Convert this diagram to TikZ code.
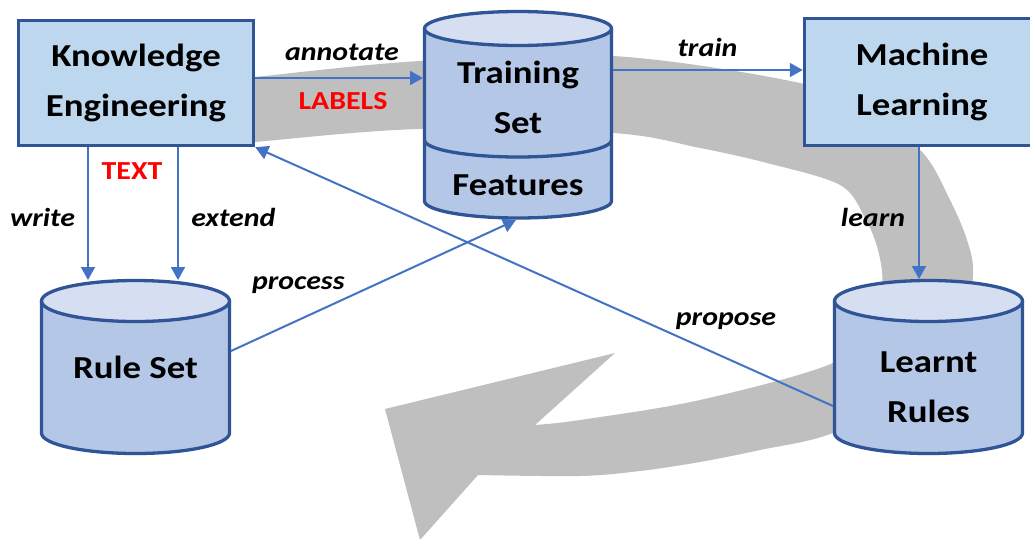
\documentclass[tikz,border=0pt]{standalone}
\usepackage{fontspec}
\setmainfont{Carlito}[FakeStretch=1.15]
\usetikzlibrary{arrows.meta,calc}
\definecolor{boxfill}{HTML}{BDD7EE}
\definecolor{edgeblue}{HTML}{2F5597}
\definecolor{cylbody}{HTML}{B4C7E7}
\definecolor{cyltop}{HTML}{D6DFF2}
\definecolor{bandgray}{HTML}{BFBFBF}
\definecolor{conncol}{HTML}{4472C4}
\definecolor{labred}{HTML}{FF0000}
% cx, y of top ellipse centre, y of bottom ellipse centre, rx, ry
\newcommand\cylshape[5]{%
  \filldraw[fill=cylbody, draw=edgeblue, line width=3.3pt, line join=round]
    (#1-#4,#2) -- (#1-#4,#3) arc[start angle=180, end angle=360, x radius=#4pt, y radius=#5pt]
    -- (#1+#4,#2) -- cycle;
  \filldraw[fill=cyltop, draw=edgeblue, line width=3.3pt] (#1,#2) ellipse[x radius=#4pt, y radius=#5pt];
}
\begin{document}
\begin{tikzpicture}[x=1pt,y=-1pt,
  procbox/.style={draw=edgeblue, fill=boxfill, line width=3.5pt, minimum width=235pt,
    minimum height=125pt, inner sep=0pt, align=center,
    font=\fontsize{32}{49.5}\selectfont\bfseries},
  cylnode/.style={inner sep=0pt, outer sep=0pt},
  cyltxt/.style={font=\fontsize{32}{50}\selectfont\bfseries, anchor=base, inner sep=0pt, align=center},
  lab/.style={font=\fontsize{26}{30}\selectfont\bfseries\itshape, anchor=base, inner sep=0pt},
  redlab/.style={font=\fontsize{26}{30}\selectfont\bfseries, text=labred, anchor=base, inner sep=0pt},
  conn/.style={draw=conncol, line width=2pt, -{Triangle[length=13pt,width=14pt]}}
]
\useasboundingbox (0,0) rectangle (1030,538);
\clip (0,0) rectangle (1030,538);

% big grey circular arrow
\fill[bandgray]
  plot[smooth, tension=0.55] coordinates {(230,80) (255,77) (420,61) (613,56) (800,83) (870,112)
    (923,153) (950,200) (967,240) (973,275) (962,340) (930,385) (833,433) (760,450) (700,462)
    (640,471) (580,476) (478,475)}
  -- (420,540) -- (385,409) -- (615,353) -- (535,425)
  -- plot[smooth, tension=0.55] coordinates {(535,425) (580,420) (700,400) (833,363) (868,325)
    (882,285) (878,250) (865,218) (840,185) (767,163) (700,148) (613,133) (420,129) (255,142) (230,145)}
  -- cycle;

% cylinders (shapes) and their anchor nodes
\cylshape{518}{28.5}{201}{93.5}{17}
\draw[draw=edgeblue, line width=3.3pt] (424.5,140) arc[start angle=180, end angle=360, x radius=93.5pt, y radius=17pt];
\cylshape{135.5}{301}{433}{94}{20.5}
\cylshape{928.5}{301}{433}{94}{20.5}
\node[cylnode, minimum width=190pt, minimum height=210pt] (ts) at (518,115) {};
\node[cylnode, minimum width=191pt, minimum height=175pt] (rs) at (135.5,367.5) {};
\node[cylnode, minimum width=191pt, minimum height=176pt] (lr) at (928.5,367) {};

\node[cyltxt] (tstxt) at (518,133) {Training\\Set};
\node[cyltxt] (fttxt) at (518,195) {Features};
\node[cyltxt] (rstxt) at (135.5,378) {Rule Set};
\node[cyltxt] (lrtxt) at (928.5,422) {Learnt\\Rules};

% boxes
\node[procbox] (ke) at (136,83) {Knowledge\\Engineering};
\node[procbox, minimum height=127pt] (ml) at (922,82) {Machine\\Learning};

% connectors
\draw[conn] ([yshift=5pt]ke.east) -- ([yshift=37pt]ts.west);
\draw[conn] ([yshift=45pt]ts.east) -- ([yshift=12pt]ml.west);
\draw[conn] ([xshift=-48pt]ke.south) -- ([xshift=-47.5pt]rs.north);
\draw[conn] ([xshift=42pt]ke.south) -- ([xshift=42.5pt]rs.north);
\draw[conn] ([xshift=-3pt]ml.south) -- ([xshift=-9.5pt]lr.north);
\draw[conn] ([yshift=16.5pt]rs.east) -- ([xshift=-2pt]ts.south);
\draw[conn] ([yshift=-39pt]lr.west) -- (ke.south east);

% labels
\node[lab] (lannot) at (342,60.7) {annotate};
\node[redlab] (llabels) at (343,109.3) {LABELS};
\node[lab] (ltrain) at (707.5,56.7) {train};
\node[redlab] (ltext) at (132,179.3) {TEXT};
\node[lab] (lwrite) at (42.5,226) {write};
\node[lab] (lextend) at (233.3,226) {extend};
\node[lab] (llearn) at (873,226) {learn};
\node[lab] (lprocess) at (298.3,289.3) {process};
\node[lab] (lpropose) at (726,325) {propose};
\end{tikzpicture}
\end{document}
